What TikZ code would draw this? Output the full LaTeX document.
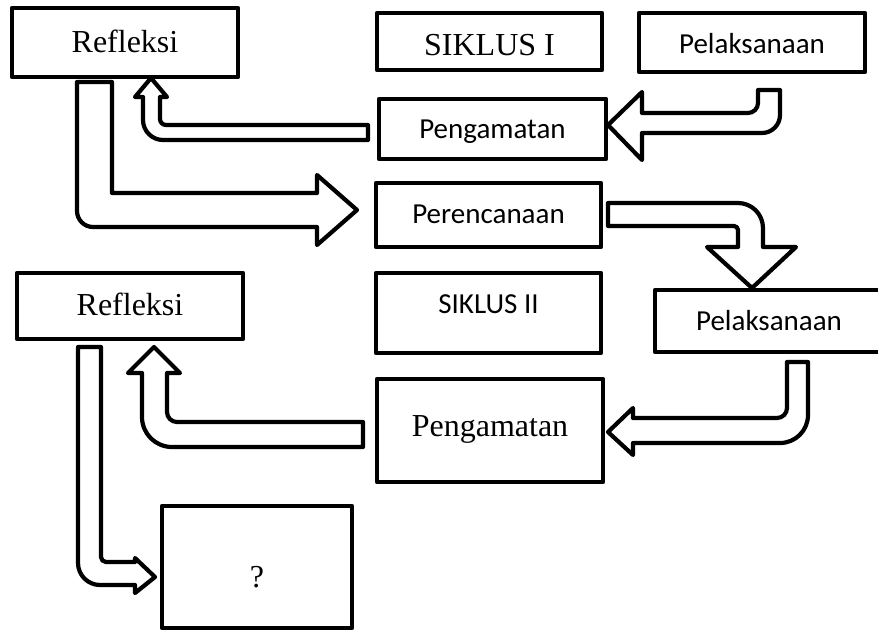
\documentclass[tikz,border=0pt]{standalone}
\usepackage{fontspec}
\setmainfont{Liberation Serif}
\newfontfamily\calibrifont{Carlito}
\begin{document}
\begin{tikzpicture}[x=1pt,y=-1pt,
  box/.style={draw=black, line width=4.2pt, fill=white, inner sep=0pt, outer sep=0pt, line join=round},
  serif/.style={font=\fontsize{32}{38}\selectfont, inner sep=0pt, anchor=base},
  sans/.style={font=\calibrifont\fontsize{29}{35}\selectfont, inner sep=0pt, anchor=base},
  blockarrow/.style={draw=black, line width=4.2pt, fill=white, line join=round}]
\clip (0,0) rectangle (878,630);
\fill[white] (0,0) rectangle (878,630);

% boxes
\node[box, minimum width=226pt, minimum height=69pt] (r1) at (125,42.5) {};
\node[box, minimum width=225pt, minimum height=57pt] (s1) at (489.5,41.5) {};
\node[box, minimum width=226pt, minimum height=59pt] (p1) at (752,42.5) {};
\node[box, minimum width=227pt, minimum height=60pt] (g1) at (492.5,129) {};
\node[box, minimum width=225pt, minimum height=64pt] (c1) at (488.5,215) {};
\node[box, minimum width=226pt, minimum height=66pt] (r2) at (130,306) {};
\node[box, minimum width=225pt, minimum height=80pt] (s2) at (488.5,313) {};
\node[box, minimum width=235pt, minimum height=62pt] (p2) at (772.5,321) {};
\node[box, minimum width=226pt, minimum height=103pt] (g2) at (490,430.5) {};
\node[box, minimum width=190pt, minimum height=122pt] (q) at (257,567) {};

% texts
\node[serif] (r1t) at (125,52) {Refleksi};
\node[serif] (s1t) at (489.5,55) {SIKLUS I};
\node[sans] (p1t) at (752,53) {Pelaksanaan};
\node[sans] (g1t) at (492.5,138) {Pengamatan};
\node[sans] (c1t) at (488.5,223) {Perencanaan};
\node[serif] (r2t) at (130,315) {Refleksi};
\node[sans] (s2t) at (488.5,313) {SIKLUS II};
\node[sans] (p2t) at (769,330) {Pelaksanaan};
\node[serif] (g2t) at (490,436) {Pengamatan};
\node[serif] (qt) at (257,587) {?};

% block arrows
% A: Pengamatan (I) -> Refleksi (I)
\draw[blockarrow] (368,125) -- (166,125) .. controls (162.7,125) and (160,122.3) .. (160,119)
  -- (160,97) -- (167,97) -- (151,78) -- (135,97) -- (143,97) -- (143,120)
  .. controls (143,131) and (152,140) .. (163,140) -- (368,140) -- cycle;
% B: Refleksi (I) -> Perencanaan
\draw[blockarrow] (77,82) -- (112,82) -- (112,193) -- (317,193) -- (317,175) -- (357,210)
  -- (317,245) -- (317,227) -- (93,227) .. controls (84.2,227) and (77,219.8) .. (77,211) -- cycle;
% C: Pelaksanaan (I) -> Pengamatan (I)
\draw[blockarrow] (758,90) -- (780,90) -- (780,115) .. controls (780,124.9) and (771.9,133) .. (762,133)
  -- (642,133) -- (642,160) -- (608,125) -- (642,92) -- (642,113) -- (748,113)
  .. controls (753.5,113) and (758,108.5) .. (758,103) -- cycle;
% D: Perencanaan -> Pelaksanaan (II)
\draw[blockarrow] (608,203) -- (738,203) .. controls (751.8,203) and (763,214.2) .. (763,228)
  -- (763,247) -- (796,247) -- (752,288) -- (707,247) -- (738,247) -- (738,230)
  .. controls (738,227.8) and (736.2,226) .. (734,226) -- (608,226) -- cycle;
% E: Pelaksanaan (II) -> Pengamatan (II)
\draw[blockarrow] (787,362) -- (808,362) -- (808,415) .. controls (808,430.5) and (795.5,443) .. (780,443)
  -- (633,443) -- (633,455) -- (608,432) -- (633,408) -- (633,418) -- (777,418)
  .. controls (782.5,418) and (787,413.5) .. (787,408) -- cycle;
% F: Pengamatan (II) -> Refleksi (II)
\draw[blockarrow] (363,422) -- (177,422) .. controls (171.5,422) and (167,417.5) .. (167,412)
  -- (167,373) -- (180,373) -- (154,347) -- (128,373) -- (142,373) -- (142,417)
  .. controls (142,433.6) and (155.4,447) .. (172,447) -- (363,447) -- cycle;
% G: Refleksi (II) -> ?
\draw[blockarrow] (78,347) -- (101,347) -- (101,557) .. controls (101,559.8) and (103.2,562) .. (106,562)
  -- (135,562) -- (135,558) -- (155,577) -- (135,593) -- (135,585) -- (100,585)
  .. controls (87.9,585) and (78,575.1) .. (78,563) -- cycle;
\end{tikzpicture}
\end{document}
